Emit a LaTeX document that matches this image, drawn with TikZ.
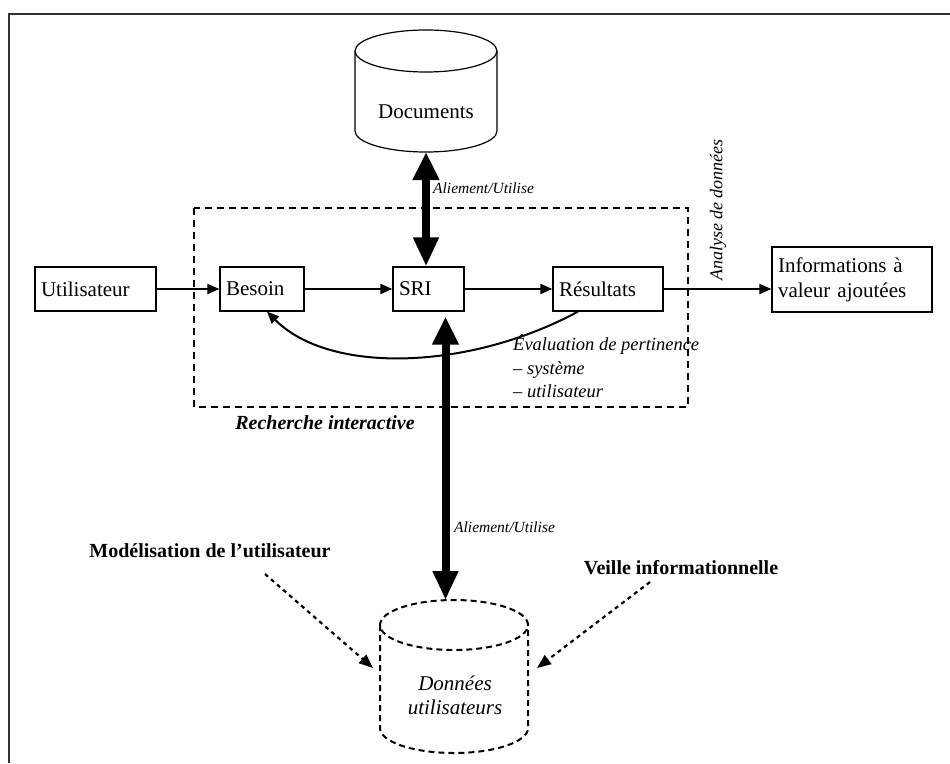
\documentclass[tikz,border=0pt]{standalone}
\usepackage{fontspec}
\setmainfont{Liberation Serif}
\usetikzlibrary{arrows.meta,calc}
\begin{document}
\begin{tikzpicture}[x=1pt,y=-1pt,
  every node/.style={font=\fontsize{21}{25}\selectfont, inner sep=0pt},
  box/.style={draw, line width=1.2pt, minimum height=44pt, inner xsep=6pt, align=left},
  flow/.style={line width=2pt, -{Triangle[length=12pt,width=10pt]}},
  bigflow/.style={line width=8pt, {Triangle[length=28pt,width=25pt]}-{Triangle[length=29pt,width=24pt]}},
  hint/.style={line width=2.2pt, dash pattern=on 4pt off 4pt, -{Triangle[length=14pt,width=11pt]}},
  zone/.style={line width=2.2pt, dash pattern=on 7pt off 5pt},
  dcyl/.style={line width=2pt, dash pattern=on 6pt off 4pt},
  lbl/.style={font=\itshape\fontsize{15.5}{18}\selectfont},
]
\useasboundingbox (0,0) rectangle (950,763);

% outer frame
\draw[line width=1.5pt, black!80] (950,14) -- (9,14) -- (9,763);

% documents store
\draw[line width=1.2pt] (355,51) -- (355,131)
  arc[start angle=180, end angle=360, x radius=71pt, y radius=21pt] -- (497,51);
\draw[line width=1.2pt] (426,51) ellipse [x radius=71pt, y radius=21pt];
\node (docs) at (426,112) {Documents};
\coordinate (docbot) at (426,152);

% interactive search zone
\draw[zone] (194,208) rectangle (688,407);
\node[font=\bfseries\itshape\fontsize{20}{24}\selectfont] (rech) at (325,423) {Recherche interactive};

% process boxes
\node[box, text width=109pt] (uti) at (95.5,289) {Utilisateur};
\node[box, text width=72pt] (bes) at (262,289) {Besoin};
\node[box, text width=59pt] (sri) at (428.5,289) {SRI};
\node[box, text width=98pt] (res) at (608,289) {Résultats};
\node[box, text width=148pt, minimum height=65pt] (info) at (852,279.5)
  {Informations à\\valeur ajoutées};

\draw[flow] (uti.east) -- (bes.west);
\draw[flow] (bes.east) -- (sri.west);
\draw[flow] (sri.east) -- (res.west);
\draw[flow] (res.east) -- (res.east -| info.west);

\node[rotate=90, font=\itshape\fontsize{18}{20}\selectfont] (ana) at (718,210) {Analyse de données};

% relevance feedback loop
\draw[flow] ([xshift=-30pt]res.south) .. controls (470,370) and (330,375) .. ([xshift=5pt]bes.south);
\node[anchor=west, align=left, font=\itshape\fontsize{18.5}{23.5}\selectfont] (eval) at (513,366.5)
  {Évaluation de pertinence\\– système\\– utilisateur};

% user data store
\draw[dcyl] (380,625) -- (380,728)
  arc[start angle=180, end angle=360, x radius=74pt, y radius=25pt] -- (528,625);
\draw[dcyl] (454,625) ellipse [x radius=74pt, y radius=25pt];
\node[align=center, font=\itshape\fontsize{21}{24}\selectfont] (don) at (455,695) {Données\\utilisateurs};
\coordinate (dontop) at (454,600);

% feeding arrows
\draw[bigflow] (docbot) -- (docbot |- sri.north);
\node[lbl, anchor=west] (al1) at (433,188) {Aliement/Utilise};
\draw[bigflow, shorten <=5pt] ([xshift=17pt]sri.south) -- ([xshift=17pt]sri.south |- dontop);
\node[lbl, anchor=west] (al2) at (454,527) {Aliement/Utilise};

% user modelling and monitoring
\node[font=\bfseries\fontsize{20}{24}\selectfont] (mod) at (210,551) {Modélisation de l'utilisateur};
\node[font=\bfseries\fontsize{20}{24}\selectfont] (veil) at (681,568) {Veille informationnelle};
\coordinate (m1) at (265,574);
\coordinate (m2) at (373,668);
\coordinate (v1) at (650,582);
\coordinate (v2) at (537,668);
\draw[hint] (m1) -- (m2);
\draw[hint] (v1) -- (v2);
\end{tikzpicture}
\end{document}
